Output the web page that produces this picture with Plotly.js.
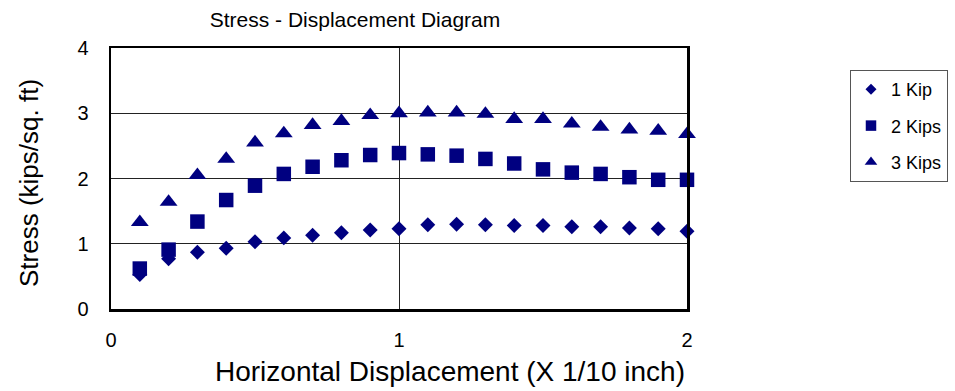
<!DOCTYPE html>
<html>
<head>
<meta charset="utf-8">
<script src="https://cdn.plot.ly/plotly-3.0.1.min.js"></script>
<style>html,body{margin:0;padding:0;background:#fff;}#chart{width:955px;height:391px;}</style>
</head>
<body>
<div id="chart"></div>
<script>
const displacement = [0.1,0.2,0.3,0.4,0.5,0.6,0.7,0.8,0.9,1.0,1.1,1.2,1.3,1.4,1.5,1.6,1.7,1.8,1.9,2.0];
const stress1Kip  = [0.53,0.77,0.87,0.93,1.03,1.09,1.13,1.17,1.21,1.23,1.29,1.30,1.29,1.28,1.28,1.26,1.26,1.24,1.23,1.19];
const stress2Kips = [0.62,0.91,1.34,1.67,1.89,2.07,2.18,2.28,2.36,2.39,2.37,2.35,2.30,2.23,2.14,2.09,2.07,2.02,1.98,1.98];
const stress3Kips = [1.33,1.64,2.05,2.30,2.55,2.69,2.82,2.88,2.97,3.00,3.01,3.01,2.99,2.91,2.91,2.84,2.79,2.75,2.73,2.68];
const seriesNames = ['1 Kip','2 Kips','3 Kips'];
const xTicks = [0,1,2];
const yTicks = [0,1,2,3,4];

const navy = '#000080';
const FONT = 'Arial, "Liberation Sans", sans-serif';

const symbols = ['diamond','square','triangle-up'];
const sizes = [11.5, 14.5, 15.5];
const legendSizes = [8.5, 10.5, 11];
const data = [];
[stress1Kip, stress2Kips, stress3Kips].forEach((ys, i) => {
  data.push({
    type: 'scatter', mode: 'markers', x: displacement, y: ys,
    name: seriesNames[i], showlegend: false, cliponaxis: false,
    marker: {symbol: symbols[i], size: sizes[i], color: navy}
  });
});
seriesNames.forEach((nm, i) => {
  data.push({
    type: 'scatter', mode: 'markers', x: [null], y: [null],
    name: nm, legendgroup: 'g' + i, showlegend: true,
    marker: {symbol: symbols[i], size: legendSizes[i], color: navy}
  });
});

const L = 111, R = 687, T = 48, B = 309;
const W = 955, H = 391;
const pw = R - L, ph = B - T;
const px = v => (v - L) / pw;
const py = v => (B - v) / ph;

const layout = {
  width: W, height: H,
  margin: {l: L, r: W - R, t: T, b: H - B, pad: 0, autoexpand: false},
  paper_bgcolor: '#fff', plot_bgcolor: '#fff',
  font: {family: FONT, color: '#000'},
  title: {text: 'Stress - Displacement Diagram', font: {size: 21, family: FONT, color: '#000'},
          x: 355 / W, xref: 'container', xanchor: 'center', y: 1 - 20 / H, yref: 'container', yanchor: 'middle'},
  xaxis: {range: [0, 2], tickvals: xTicks, ticktext: xTicks.map(String), showgrid: true, gridcolor: '#222', gridwidth: 1,
          zeroline: false, showline: true, mirror: true, linecolor: '#000', linewidth: 2.5,
          ticks: '', ticklabelstandoff: 11, tickfont: {size: 20, family: FONT, color: '#000'}, fixedrange: true},
  yaxis: {range: [0, 4], tickvals: yTicks, ticktext: yTicks.map(String), showgrid: true, gridcolor: '#222', gridwidth: 1,
          zeroline: false, showline: true, mirror: true, linecolor: '#000', linewidth: 2.5,
          ticks: '', ticklabelstandoff: 16, tickfont: {size: 20, family: FONT, color: '#000'}, fixedrange: true},
  showlegend: true,
  legend: {x: px(850), y: py(70), xanchor: 'left', yanchor: 'top', bgcolor: '#fff', bordercolor: '#555', borderwidth: 1,
           font: {size: 18, family: FONT, color: '#000'}, traceorder: 'grouped', tracegroupgap: 10, itemwidth: 30},
  annotations: [
    {text: 'Horizontal Displacement (X 1/10 inch)', xref: 'paper', yref: 'paper', x: px(450), y: py(371),
     xanchor: 'center', yanchor: 'middle', showarrow: false, font: {size: 28, family: FONT, color: '#000'}},
    {text: 'Stress (kips/sq. ft)', xref: 'paper', yref: 'paper', x: px(29), y: py(183), textangle: -90,
     xanchor: 'center', yanchor: 'middle', showarrow: false, font: {size: 26, family: FONT, color: '#000'}}
  ]
};

Plotly.newPlot('chart', data, layout, {displayModeBar: false, staticPlot: true});
</script>
</body>
</html>
